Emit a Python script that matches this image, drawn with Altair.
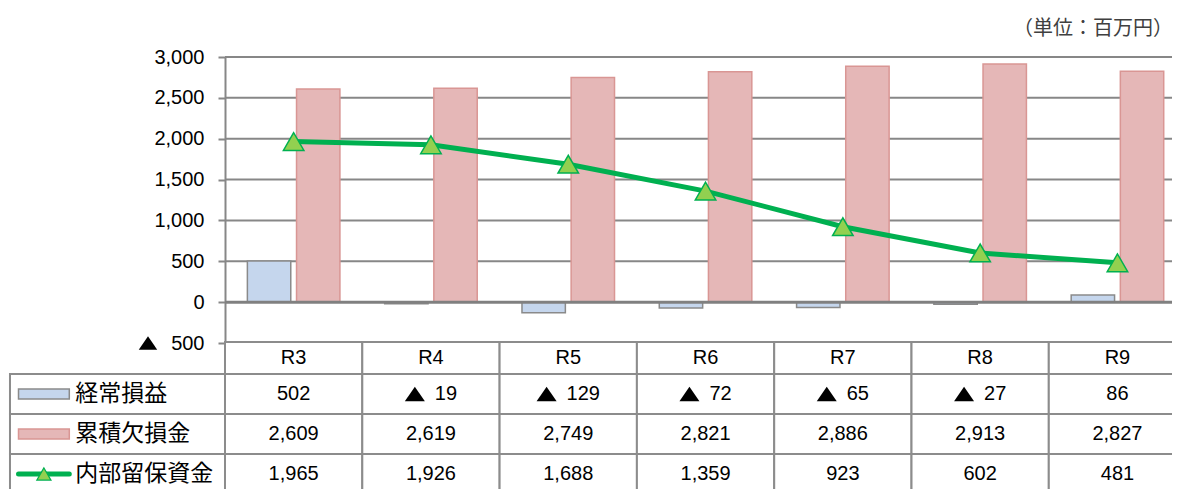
import altair as alt
import pandas as pd

# ---------------- data ----------------
categories = ["R3", "R4", "R5", "R6", "R7", "R8", "R9"]
keijo = [502, -19, -129, -72, -65, -27, 86]          # 経常損益
ruiseki = [2609, 2619, 2749, 2821, 2886, 2913, 2827]  # 累積欠損金
naibu = [1965, 1926, 1688, 1359, 923, 602, 481]       # 内部留保資金
series_names = ["経常損益", "累積欠損金", "内部留保資金"]
y_ticks = [-500, 0, 500, 1000, 1500, 2000, 2500, 3000]
grid_values = [500, 1000, 1500, 2000, 2500, 3000]
unit_label = "（単位：百万円）"

# ---------------- layout (code only) ----------------
W, H = 1164, 481
X0 = 217.0
CW = 137.3
NCAT = len(categories)
xscale = alt.Scale(domain=[0, NCAT], range=[X0, X0 + NCAT * CW], nice=False, zero=False)
yscale = alt.Scale(domain=[-500, 3000], range=[335, 49], nice=False, zero=False)
tscale = alt.Scale(domain=[-0.8, 3], range=[334, 486], nice=False, zero=False)
LABEL_LEFT = -1.566
BAR_W, BAR_GAP = 0.316, 0.042

FONT_NUM = "Liberation Sans"
FONT_JP = "Noto Sans CJK JP"
GRAY = "#878787"
TRI_PATH = "M0,-0.72L1,0.72L-1,0.72Z"
DIGIT_PX, TRI_PX, GAP_PX = 11.1, 20.0, 10.0

# bars
bar_rows = []
for i, c in enumerate(categories):
    bar_rows.append(dict(cat=c, s=series_names[0], v=keijo[i],
                         xa=i + 0.5 - BAR_GAP / 2 - BAR_W, xb=i + 0.5 - BAR_GAP / 2))
    bar_rows.append(dict(cat=c, s=series_names[1], v=ruiseki[i],
                         xa=i + 0.5 + BAR_GAP / 2, xb=i + 0.5 + BAR_GAP / 2 + BAR_W))
bars_df = pd.DataFrame(bar_rows)
bars_df["z"] = 0

line_df = pd.DataFrame({"cat": categories, "v": naibu, "xc": [i + 0.5 for i in range(NCAT)]})
grid_df = pd.DataFrame({"v": grid_values, "xa": 0, "xb": NCAT})
zero_df = pd.DataFrame({"v": [0], "xa": [0], "xb": [NCAT]})
neg_tick_df = pd.DataFrame({"v": [y_ticks[0]], "xc": [-77.0 / CW]})

yaxis = alt.Axis(
    values=y_ticks,
    labelExpr="format(abs(datum.value), ',')",
    grid=False, domainColor=GRAY, domainWidth=2, tickColor=GRAY, tickWidth=2, tickSize=7,
    labelFont=FONT_NUM, labelFontSize=20, labelColor="#000000", labelPadding=14,
    offset=-X0, title=None,
)

X = lambda f: alt.X(f, type="quantitative", scale=xscale, axis=None)
Y = lambda f: alt.Y(f, type="quantitative", scale=yscale, axis=yaxis)

grid = alt.Chart(grid_df).mark_rule(color=GRAY, strokeWidth=2).encode(
    x=X("xa"), x2="xb", y=Y("v"))

blue = alt.Chart(bars_df).transform_filter(alt.datum.s == series_names[0]).mark_bar(
    fill="#c5d6ed", stroke="#8a8a8a", strokeWidth=1.5).encode(
    x=X("xa"), x2="xb", y=Y("v"), y2="z")
pink = alt.Chart(bars_df).transform_filter(alt.datum.s == series_names[1]).mark_bar(
    fill="#e5b7b7", stroke="#d99694", strokeWidth=1.5).encode(
    x=X("xa"), x2="xb", y=Y("v"), y2="z")

zero = alt.Chart(zero_df).mark_rule(color="#808080", strokeWidth=3).encode(
    x=X("xa"), x2="xb", y=Y("v"))

line = alt.Chart(line_df).mark_line(color="#00b050", strokeWidth=5).encode(
    x=X("xc"), y=Y("v"))
pts = alt.Chart(line_df).mark_point(shape="triangle-up", size=420, filled=True,
                                    fill="#92d050", stroke="#00b050", strokeWidth=1.5,
                                    opacity=1).encode(x=X("xc"), y=Y("v"))
neg_tri = alt.Chart(neg_tick_df).mark_point(shape=TRI_PATH, size=340, filled=True,
                                            fill="#000000", strokeWidth=0, opacity=1).encode(
    x=X("xc"), y=Y("v"))

main = alt.layer(grid, blue, pink, zero, line, pts, neg_tri)

# ---------------- table ----------------
TY = lambda f: alt.Y(f, type="quantitative", scale=tscale, axis=None)

cells = []
for i in range(NCAT):
    cells.append(dict(xa=i, xb=i + 1, ya=-0.8, yb=0))
for r in range(1, 4):
    cells.append(dict(xa=LABEL_LEFT, xb=0, ya=r - 1, yb=r))
    for i in range(NCAT):
        cells.append(dict(xa=i, xb=i + 1, ya=r - 1, yb=r))
cells_df = pd.DataFrame(cells)

hdr_df = pd.DataFrame({"t": categories, "xc": [i + 0.5 for i in range(NCAT)], "yc": -0.4})

pos_rows, neg_num_rows, neg_tri_rows = [], [], []
for r, arr in enumerate([keijo, ruiseki, naibu], start=1):
    for i, v in enumerate(arr):
        if v >= 0:
            pos_rows.append(dict(t=f"{v:,}", xc=i + 0.5, yc=r - 0.5))
        else:
            s = f"{-v:,}"
            total = TRI_PX + GAP_PX + len(s) * DIGIT_PX
            left = (i + 0.5) - total / 2 / CW
            neg_tri_rows.append(dict(xc=left + TRI_PX / 2 / CW, yc=r - 0.5))
            neg_num_rows.append(dict(t=s, xc=left + (TRI_PX + GAP_PX) / CW, yc=r - 0.5))
pos_df = pd.DataFrame(pos_rows)
negn_df = pd.DataFrame(neg_num_rows)
negt_df = pd.DataFrame(neg_tri_rows)
lab_df = pd.DataFrame({"t": series_names, "xc": LABEL_LEFT + 0.476, "yc": [0.5, 1.5, 2.5]})

SYM_A, SYM_B = LABEL_LEFT + 0.062, LABEL_LEFT + 0.432
sym_df = pd.DataFrame({"s": series_names[:2], "xa": SYM_A, "xb": SYM_B,
                       "ya": [0.5 - 0.125, 1.5 - 0.125], "yb": [0.5 + 0.125, 1.5 + 0.125]})
leg_line_df = pd.DataFrame({"xa": [SYM_A], "xb": [SYM_B], "y": [2.5], "xc": [(SYM_A + SYM_B) / 2]})

txt = dict(font=FONT_NUM, fontSize=20, color="#000000", baseline="middle")
cell_layer = alt.Chart(cells_df).mark_rect(fill="#ffffff", stroke="#8c8c8c", strokeWidth=2).encode(
    x=X("xa"), x2="xb", y=TY("ya"), y2="yb")
hdr_layer = alt.Chart(hdr_df).mark_text(align="center", **txt).encode(
    x=X("xc"), y=TY("yc"), text="t")
pos_layer = alt.Chart(pos_df).mark_text(align="center", **txt).encode(
    x=X("xc"), y=TY("yc"), text="t")
negn_layer = alt.Chart(negn_df).mark_text(align="left", **txt).encode(
    x=X("xc"), y=TY("yc"), text="t")
negt_layer = alt.Chart(negt_df).mark_point(shape=TRI_PATH, size=400, filled=True,
                                           fill="#000000", strokeWidth=0, opacity=1).encode(
    x=X("xc"), y=TY("yc"))
lab_layer = alt.Chart(lab_df).mark_text(font=FONT_JP, fontSize=23, color="#000000",
                                        baseline="middle", align="left").encode(
    x=X("xc"), y=TY("yc"), text="t")
sym_layer = alt.Chart(sym_df).mark_rect(strokeWidth=1.5).encode(
    x=X("xa"), x2="xb", y=TY("ya"), y2="yb",
    fill=alt.Fill("s:N", scale=alt.Scale(domain=series_names[:2], range=["#c5d6ed", "#e5b7b7"]), legend=None),
    stroke=alt.Stroke("s:N", scale=alt.Scale(domain=series_names[:2], range=["#8a8a8a", "#d99694"]), legend=None),
)
leg_line = alt.Chart(leg_line_df).mark_rule(color="#00b050", strokeWidth=5, strokeCap="round").encode(
    x=X("xa"), x2="xb", y=TY("y"))
leg_pt = alt.Chart(leg_line_df).mark_point(shape="triangle-up", size=200, filled=True,
                                           fill="#92d050", stroke="#00b050", strokeWidth=1.2,
                                           opacity=1).encode(x=X("xc"), y=TY("y"))

table = alt.layer(cell_layer, hdr_layer, pos_layer, negn_layer, negt_layer, lab_layer,
                  sym_layer, leg_line, leg_pt)

unit = alt.Chart(pd.DataFrame({"t": [unit_label]})).mark_text(
    font=FONT_JP, fontSize=20, color="#404040", align="right", baseline="middle").encode(
    x=alt.value(1165), y=alt.value(20.5), text="t")

chart = alt.layer(main, table, unit).resolve_scale(y="independent").properties(
    width=W, height=H, padding=0, autosize=alt.AutoSizeParams(type="none"),
    background="#ffffff",
).configure_view(strokeWidth=0, stroke="transparent")

chart.save("out.html", embed_options={"renderer": "svg", "actions": False})
